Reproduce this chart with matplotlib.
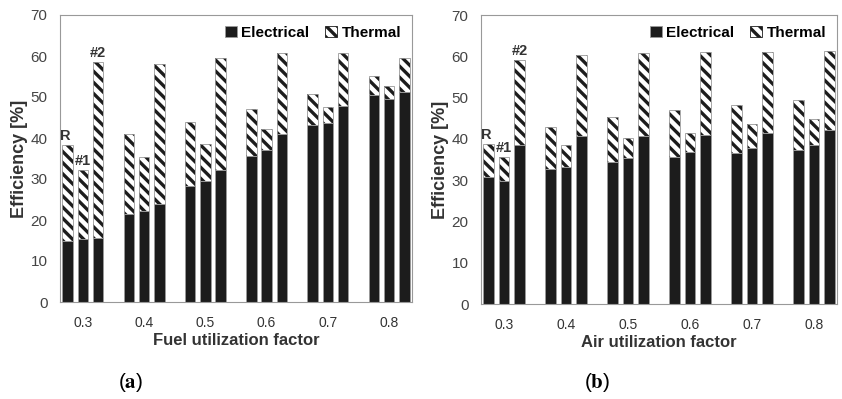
import matplotlib

matplotlib.use("Agg")
import matplotlib.pyplot as plt
from matplotlib.patches import Patch
import numpy as np

factors = ["0.3", "0.4", "0.5", "0.6", "0.7", "0.8"]
cases = ["R", "#1", "#2"]

# (a) fuel utilization: electrical and total efficiency per case [%]
fuel_elec = {
    "R": [15.0, 21.4, 28.3, 35.6, 43.1, 50.6],
    "#1": [15.4, 22.2, 29.4, 37.0, 43.6, 49.6],
    "#2": [15.7, 23.8, 32.2, 40.9, 47.7, 51.3],
}
fuel_total = {
    "R": [38.3, 40.9, 43.8, 47.0, 50.8, 55.2],
    "#1": [32.1, 35.3, 38.6, 42.2, 47.6, 52.6],
    "#2": [58.5, 58.0, 59.5, 60.8, 60.8, 59.4],
}

# (b) air utilization
air_elec = {
    "R": [30.8, 32.8, 34.5, 35.6, 36.6, 37.2],
    "#1": [29.7, 33.1, 35.4, 36.9, 37.9, 38.5],
    "#2": [38.4, 40.6, 40.7, 41.0, 41.5, 42.1],
}
air_total = {
    "R": [38.7, 42.8, 45.3, 47.1, 48.1, 49.4],
    "#1": [35.6, 38.5, 40.2, 41.4, 43.6, 44.8],
    "#2": [59.0, 60.2, 60.7, 61.0, 61.1, 61.4],
}

SANS = ["Liberation Sans", "DejaVu Sans"]
plt.rcParams["font.family"] = SANS
plt.rcParams["hatch.linewidth"] = 2.4
plt.rcParams["mathtext.fontset"] = "stix"

DARK = "#1c1c1c"
EDGE = "#999999"


def draw_panel(ax, elec, total, xlabel):
    x = np.arange(len(factors))
    width = 0.17
    offsets = [-0.25, 0.0, 0.25]
    for case, off in zip(cases, offsets):
        e = np.array(elec[case])
        t = np.array(total[case]) - e
        ax.bar(x + off, e, width, color=DARK, edgecolor=EDGE, linewidth=0.6)
        ax.bar(x + off, t, width, bottom=e, color="white", edgecolor=DARK,
               hatch="\\\\\\", linewidth=0)
        ax.bar(x + off, total[case], width, fill=False, edgecolor=EDGE, linewidth=0.6)
        ax.text(x[0] + off - (0.04 if case == "R" else 0), total[case][0] + 0.6, case,
                ha="center", va="bottom", fontsize=10.5, fontweight="bold", color="#333333")

    ax.set_xlim(-0.375, len(factors) - 0.625)
    ax.set_ylim(0, 70)
    ax.set_yticks(range(0, 71, 10))
    ax.set_xticks(x)
    ax.set_xticklabels(factors, fontsize=10, color="#333333")
    ax.tick_params(axis="y", length=0, labelsize=11, labelcolor="#444444", pad=9)
    ax.tick_params(axis="x", length=0, pad=10)
    for s in ax.spines.values():
        s.set_color(EDGE)
        s.set_linewidth(0.8)
    ax.set_ylabel("Efficiency [%]", fontsize=13, fontweight="bold", color="#333333", labelpad=2)
    ax.set_xlabel(xlabel, fontsize=12, fontweight="bold", color="#333333", labelpad=2)
    handles = [
        Patch(facecolor=DARK, edgecolor=EDGE, linewidth=0.6, label="Electrical"),
        Patch(facecolor="white", edgecolor=DARK, hatch="\\\\\\", linewidth=0.6, label="Thermal"),
    ]
    ax.legend(handles=handles, loc="upper right", ncol=2, frameon=False, handlelength=0.8,
              handleheight=0.8, columnspacing=1.0, handletextpad=0.3,
              prop={"weight": "bold", "size": 11, "family": SANS}, borderaxespad=0.3)


fig = plt.figure(figsize=(8.42, 3.99), dpi=100)
ax1 = fig.add_axes([60 / 842, 1 - 302 / 399, 352 / 842, 287 / 399])
ax2 = fig.add_axes([481 / 842, 1 - 304 / 399, 356 / 842, 289 / 399])
draw_panel(ax1, fuel_elec, fuel_total, "Fuel utilization factor")
draw_panel(ax2, air_elec, air_total, "Air utilization factor")

fig.text(131 / 842, 1 - 383 / 399, r"($\mathbf{a}$)", ha="center", va="center", fontsize=15)
fig.text(597 / 842, 1 - 383 / 399, r"($\mathbf{b}$)", ha="center", va="center", fontsize=15)

fig.savefig("out.png", dpi=100)
plt.close(fig)
